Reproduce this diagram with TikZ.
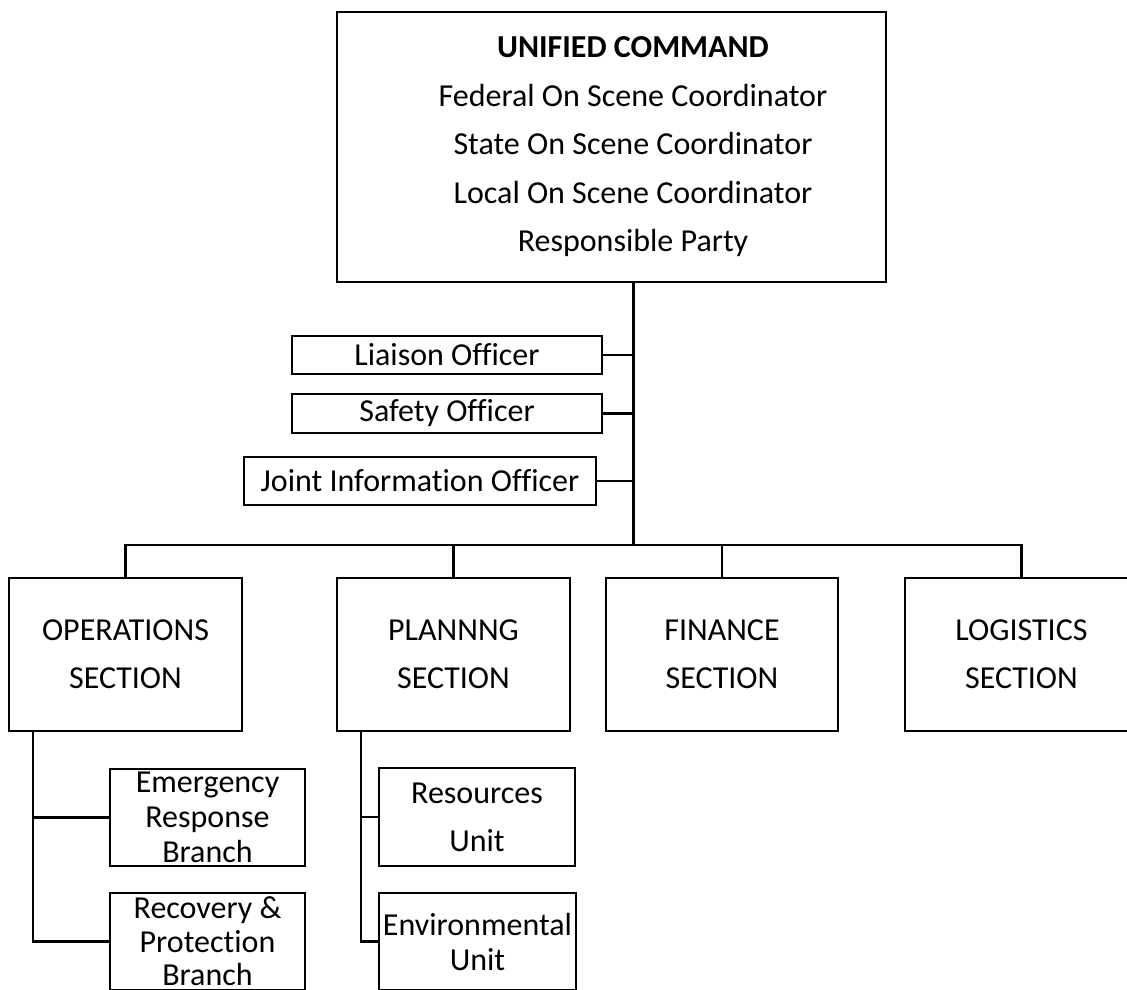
\documentclass[tikz,border=0pt]{standalone}
\usepackage{fontspec}
\setmainfont{Carlito}[Ligatures=CommonOff]

\begin{document}
\begin{tikzpicture}[x=1pt,y=-1pt,line width=2.6pt]
\tikzstyle boxed=[draw,inner sep=0pt,align=center,font=\fontsize{32}{48}\selectfont]
\tikzstyle sectionbox=[boxed,minimum width=233pt,minimum height=153pt]
\tikzstyle officer=[boxed,minimum height=38pt]
\tikzstyle subbox=[boxed,minimum height=97pt]
\tikzstyle tight=[font=\fontsize{32}{35}\selectfont]
 \useasboundingbox (0,0) rectangle (1127,990);
 \clip (0,0) rectangle (1127,990);
 % command
 \node[draw,minimum width=549pt,minimum height=270pt,
   label={[xshift=21.5pt,align=center,font=\fontsize{32}{48.5}\selectfont]center:%
   {\textbf{UNIFIED COMMAND}\\Federal On Scene Coordinator\\State On Scene Coordinator\\%
   Local On Scene Coordinator\\Responsible Party}}] (uc) at (611.5,147) {};
 \coordinate (hub) at (633,545);
 % officers
 \node[officer,minimum width=310pt] (lia) at (447,355) {Liaison Officer};
 \node[officer,minimum width=310pt,minimum height=39pt] (saf) at (447,413.5) {Safety Officer};
 \node[officer,minimum width=352pt,minimum height=48pt] (jio) at (420,481) {Joint Information Officer};
 % sections
 \node[sectionbox] (ops) at (125.5,654.5) {OPERATIONS\\SECTION};
 \node[sectionbox] (plan) at (453.5,654.5) {PLANNNG\\SECTION};
 \node[sectionbox,minimum width=232pt] (fin) at (722,654.5) {FINANCE\\SECTION};
 \node[sectionbox] (log) at (1021.5,654.5) {LOGISTICS\\SECTION};
 % branches and units
 \node[subbox,tight,minimum width=195pt] (emr) at (207.5,817.5) {Emergency\\Response\\Branch};
 \node[subbox,font=\fontsize{32}{33.5}\selectfont,minimum width=195pt] (rec) at (207.5,941.5) {Recovery \&\\Protection\\Branch};
 \node[subbox,minimum width=196pt,minimum height=98pt] (res) at (477,817) {Resources\\Unit};
 \node[subbox,tight,minimum width=197pt] (env) at (477.5,941.5) {Environmental\\Unit};
 \coordinate (opsleg) at (33,731);
 \coordinate (planleg) at (361,731);
 % lines
 \draw[line width=3pt] (hub |- uc.south) -- (hub);
 \draw (lia.east) -- (lia.east -| hub);
 \draw (saf.east) -- (saf.east -| hub);
 \draw (jio.east) -- (jio.east -| hub);
 \draw (ops.north) |- (hub) -| (log.north);
 \draw (plan.north) -- (plan.north |- hub);
 \draw (fin.north) -- (fin.north |- hub);
 \draw (opsleg) |- (rec.west);
 \draw (emr.west) -- (emr.west -| opsleg);
 \draw (planleg) |- (env.west);
 \draw (res.west) -- (res.west -| planleg);
\end{tikzpicture}
\end{document}
